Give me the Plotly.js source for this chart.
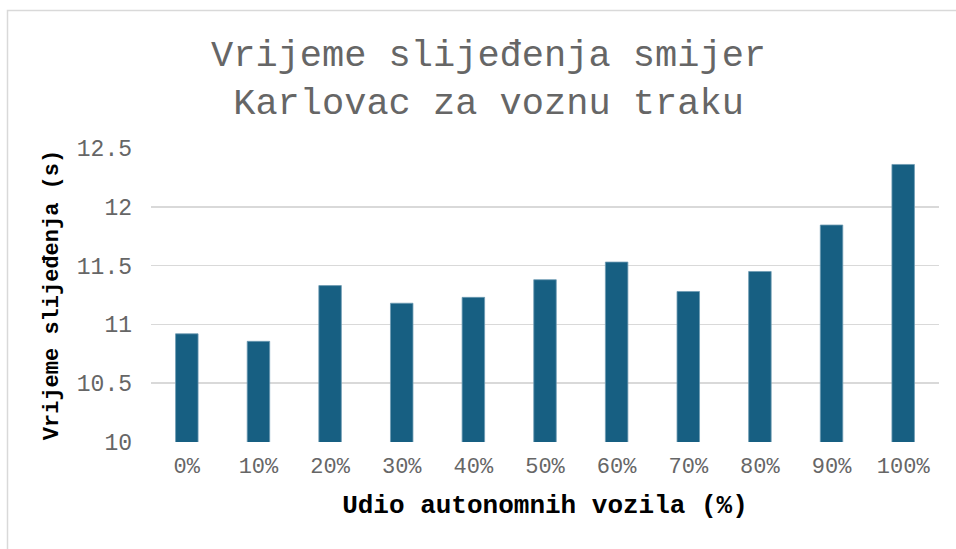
<!DOCTYPE html>
<html>
<head>
<meta charset="utf-8">
<script src="https://cdn.plot.ly/plotly-3.0.1.min.js"></script>
<style>
  html, body { margin: 0; padding: 0; background: #fff; }
  #chart { width: 956px; height: 549px; }
</style>
</head>
<body>
<div id="chart"></div>
<script>
const categories = ["0%", "10%", "20%", "30%", "40%", "50%", "60%", "70%", "80%", "90%", "100%"];
const values = [10.92, 10.856, 11.33, 11.18, 11.23, 11.38, 11.53, 11.28, 11.45, 11.845, 12.36];
const yTickVals = [10, 10.5, 11, 11.5, 12, 12.5];
const yTickText = ["10", "10.5", "11", "11.5", "12", "12.5"];

const titleText = "Vrijeme slijeđenja smijer<br>Karlovac za voznu traku";
const xTitle = "Udio autonomnih vozila (%)";
const yTitle = "Vrijeme slijeđenja (s)";

const mono = '"Courier New", "Liberation Mono", monospace';

const W = 956, H = 549;
const L = 151, R = 17, T = 148, B = 107;
const pw = W - L - R, ph = H - T - B;

const trace = {
  type: 'bar',
  x: categories,
  y: values,
  marker: { color: '#175f82', line: { color: '#6d9ab2', width: 0.8 } },
  hoverinfo: 'x+y'
};

const layout = {
  width: W, height: H,
  margin: { l: L, r: R, t: T, b: B, pad: 0 },
  paper_bgcolor: '#ffffff',
  plot_bgcolor: '#ffffff',
  showlegend: false,
  bargap: 0.686,
  title: {
    text: titleText,
    font: { family: mono, size: 37, color: '#666666' },
    xref: 'container', x: 0.511, xanchor: 'center',
    yref: 'container', y: 1 - 66 / H, yanchor: 'top'
  },
  xaxis: {
    type: 'category',
    showgrid: false,
    zeroline: false,
    showline: false,
    ticks: '',
    tickfont: { family: mono, size: 22, color: '#666666' },
    ticklabelstandoff: 8,
    title: {
      text: '<b>' + xTitle + '</b>',
      font: { family: mono, size: 26, color: '#000000' },
      standoff: 15
    }
  },
  yaxis: {
    range: [10, 12.5],
    tickvals: yTickVals,
    ticktext: yTickText,
    showgrid: true,
    gridcolor: '#d9d9d9',
    gridwidth: 1.5,
    zeroline: false,
    showline: false,
    ticks: '',
    tickfont: { family: mono, size: 23, color: '#666666' },
    ticklabelstandoff: 18,
    title: {
      text: '<b>' + yTitle + '</b>',
      font: { family: mono, size: 22, color: '#000000' },
      standoff: 12
    }
  },
  shapes: [{
    type: 'rect',
    xref: 'paper', yref: 'paper',
    x0: (7.5 - L) / pw, x1: (W + 10 - L) / pw,
    y0: -(B + 20) / ph, y1: (H - 10.5 - B) / ph,
    line: { color: '#d9d9d9', width: 1.5 },
    fillcolor: 'rgba(0,0,0,0)',
    layer: 'below'
  }]
};

Plotly.newPlot('chart', [trace], layout, { displayModeBar: false, staticPlot: true });
</script>
</body>
</html>
